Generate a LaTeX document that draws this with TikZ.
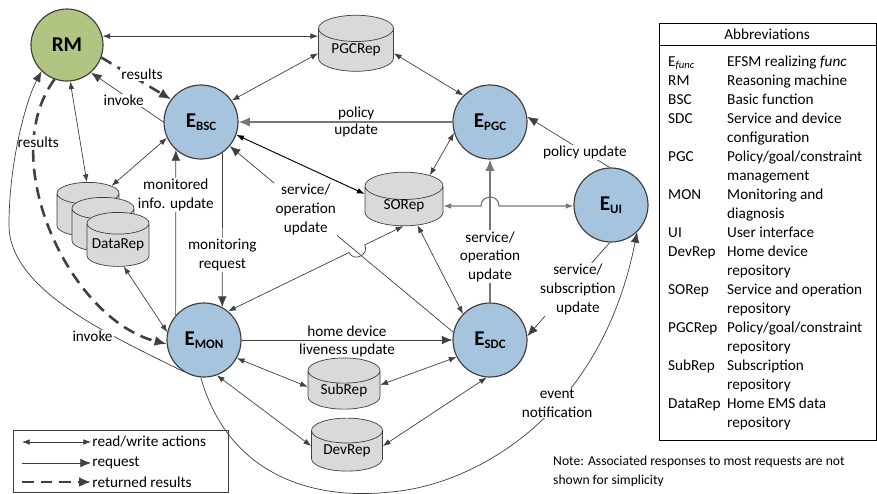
\documentclass[tikz,border=0pt]{standalone}
\usepackage{fontspec}
\setmainfont{Carlito}
\usetikzlibrary{shapes,arrows.meta,positioning,calc}

\definecolor{efsmblue}{RGB}{167,196,223}
\definecolor{rmgreen}{RGB}{178,196,130}
\definecolor{repgray}{RGB}{217,217,217}
\definecolor{linegray}{RGB}{64,64,64}
\definecolor{reqgray}{RGB}{118,118,118}

\newcommand{\Elabel}[1]{E\raisebox{-0.09cm}{\fontsize{11}{11}\selectfont #1}}

\tikzset{
  efsm/.style={circle, draw=linegray, line width=1pt, fill=efsmblue, minimum size=2.22cm, inner sep=0pt, font=\fontsize{18}{20}\selectfont\bfseries},
  repo/.style 2 args={cylinder, shape border rotate=90, aspect=0.35, draw=linegray, line width=0.6pt, fill=repgray, font=\fontsize{13}{15}\selectfont, inner sep=0pt, align=center, text width=#1, minimum width=#1, minimum height=#2},
  lbl/.style={font=\fontsize{13}{16}\selectfont, align=center, inner sep=1pt},
  rw/.style={<->, >={Latex[length=2.3mm,width=1.7mm]}, draw=linegray, line width=0.6pt},
  req/.style={-{Latex[length=3.2mm,width=2.6mm]}, draw=linegray, line width=0.6pt},
  reqbold/.style={-{Latex[length=3.4mm,width=2.8mm]}, draw=reqgray, line width=1.2pt},
  res/.style={-{Latex[length=3.6mm,width=3mm]}, draw=linegray, line width=2.2pt, dash pattern=on 10pt off 6pt},
}

\begin{document}
\begin{tikzpicture}[x=0.03cm, y=-0.03cm]
\useasboundingbox (0,0) rectangle (877,493);

% EFSMs
\node[efsm, fill=rmgreen, minimum size=2.16cm] (rm) at (67,45) {RM};
\node[efsm] (ebsc) at (201,122) {\Elabel{BSC}};
\node[efsm] (epgc) at (490,122) {\Elabel{PGC}};
\node[efsm] (eui) at (611,205) {\Elabel{UI}};
\node[efsm] (emon) at (204,340) {\Elabel{MON}};
\node[efsm] (esdc) at (490,340) {\Elabel{SDC}};

% repositories
\node[repo={2.25cm}{1.68cm}] (pgcrep) at (356,50) {PGCRep};
\node[repo={2.34cm}{1.41cm}] (sorep) at (404,206) {SORep};
\node[repo={2.16cm}{1.53cm}] (subrep) at (344,390) {SubRep};
\node[repo={2.13cm}{1.59cm}] (devrep) at (347,451) {DevRep};
\node[repo={1.86cm}{1.62cm}] (data1) at (88,215) {};
\node[repo={1.86cm}{1.62cm}] (data2) at ($(data1)+(15,15)$) {};
\node[repo={1.86cm}{1.62cm}] (datarep) at ($(data2)+(15,15)$) {DataRep};

% RM
\draw[rw] (rm.14) -- (rm.14 -| pgcrep.180);
\draw[rw] (rm.275) -- (data1.92);
\draw[res] (rm.340) -- node[lbl, fill=white, pos=0.55, xshift=2pt, yshift=5pt]{results} (ebsc.143);
\draw[req] (ebsc.180) -- node[lbl, fill=white, pos=0.55, yshift=-5pt]{invoke} (rm.311);
\draw[res] (rm.250) .. controls (-5,160) and (70,320) .. (emon.186) node[lbl, fill=white, pos=0.22, xshift=4pt]{results};
\draw[req] (emon.238) .. controls (110,335) and (9,290) .. (9,225) node[lbl, fill=white, pos=0.35, xshift=-8pt, yshift=-6pt]{invoke} .. controls (9,160) and (27,98) .. (rm.226);

% BSC
\draw[rw] (ebsc.35) -- (pgcrep.185);
\draw[rw] (ebsc.205) -- (data1.51);
\draw[rw, draw=black, line width=0.8pt] (ebsc.340) -- (sorep.163);
\draw[req] (ebsc.305) -- node[lbl, fill=white, pos=0.66]{monitoring\\request} (emon.61);
\draw[req] (emon.139) -- node[lbl, fill=white, pos=0.73]{monitored\\info. update} (ebsc.228);
\draw[req] (esdc.168) -- node[lbl, fill=white, pos=0.66]{service/\\operation\\update} (ebsc.320);

% PGC
\draw[rw] (pgcrep.355) -- (epgc.135);
\draw[reqbold] (epgc.180) -- node[lbl, above, pos=0.45]{policy} node[lbl, below, pos=0.45]{update} (ebsc.0);
\draw[req] (eui.92) -- node[lbl, fill=white, pos=0.3]{policy update} (epgc.8);
\draw[rw] (sorep.50) -- (epgc.197);
\draw[reqbold] (esdc.north) -- node[lbl, fill=white, pos=0.32]{service/\\operation\\update} (epgc.south);

% SORep
\draw[rw] (emon.50) -- ($(emon.50)!0.69!(sorep.268)$) .. controls +(4.7,9.9) and +(4.7,9.9) .. ($(emon.50)!0.78!(sorep.268)$) -- (sorep.268);
\draw[rw] (sorep.305) -- (esdc.136);
\draw[rw, draw=reqgray, line width=1pt] (sorep.0) -- ($(epgc.south |- sorep.0)+(-9,0)$) .. controls +(0,-12) and +(0,-12) .. ($(epgc.south |- sorep.0)+(9,0)$) -- (sorep.0 -| eui.180);

% MON and SDC
\draw[rw] (datarep.285) -- (emon.168);
\draw[req] (emon.0) -- node[lbl, above, inner sep=3pt]{home device} node[lbl, below, inner sep=3pt]{liveness update} (esdc.180);
\draw[rw] (emon.331) -- (subrep.175);
\draw[rw] (esdc.207) -- (subrep.8);
\draw[rw] (emon.290) -- (devrep.172);
\draw[rw] (esdc.265) -- (devrep.8);
\draw[req] (eui.268) -- node[lbl, fill=white, pos=0.5, xshift=8pt]{service/\\subscription\\update} (esdc.6);
\draw[req] (emon.265) .. controls (230,480) and (320,500) .. (390,492) .. controls (470,486) and (600,420) .. (eui.314) node[lbl, fill=white, pos=0.6]{event\\notification};

% legend
\node[draw=linegray, line width=0.6pt, anchor=north west, minimum width=6.45cm, minimum height=1.86cm, inner sep=0pt] (legend) at (13,430) {};
\node[lbl, anchor=west] (lgrw) at (91,442) {read/write actions};
\node[lbl, anchor=west] (lgreq) at (91,463) {request};
\node[lbl, anchor=west] (lgres) at (91,482) {returned results};
\coordinate (lgrwstart) at (22,442);
\coordinate (lgreqstart) at (22,463);
\coordinate (lgresstart) at (22,482);
\draw[rw] (lgrwstart) -- (lgrw.west);
\draw[req] (lgreqstart) -- (lgreq.west);
\draw[res] (lgresstart) -- (lgres.west);

% abbreviations
\node[draw=black, line width=0.6pt, anchor=north west, minimum width=6.5cm, minimum height=12.51cm, inner sep=0pt] (abbr) at (659,23) {};
\node[lbl] (abbrhead) at (767,34) {Abbreviations};
\draw[line width=0.6pt] (abbr.north west) ++(0,22) -- ++(216.7,0);
\node[anchor=north west, inner sep=0pt, font=\fontsize{13}{16.2}\selectfont] (abbrlist) at (668,53) {%
\begin{tabular}{@{}p{1.77cm}@{}l@{}}
E\textsubscript{\itshape func} & EFSM realizing \textit{func}\\
RM & Reasoning machine\\
BSC & Basic function\\
SDC & Service and device\\
 & configuration\\
PGC & Policy/goal/constraint\\
 & management\\
MON & Monitoring and\\
 & diagnosis\\
UI & User interface\\
DevRep & Home device\\
 & repository\\
SORep & Service and operation\\
 & repository\\
PGCRep & Policy/goal/constraint\\
 & repository\\
SubRep & Subscription\\
 & repository\\
DataRep & Home EMS data\\
 & repository
\end{tabular}};

% note
\node[anchor=north west, align=left, inner sep=0pt, font=\fontsize{11.6}{16.2}\selectfont] (note) at (553,456) {Note: Associated responses to most requests are not\\shown for simplicity};
\end{tikzpicture}
\end{document}
